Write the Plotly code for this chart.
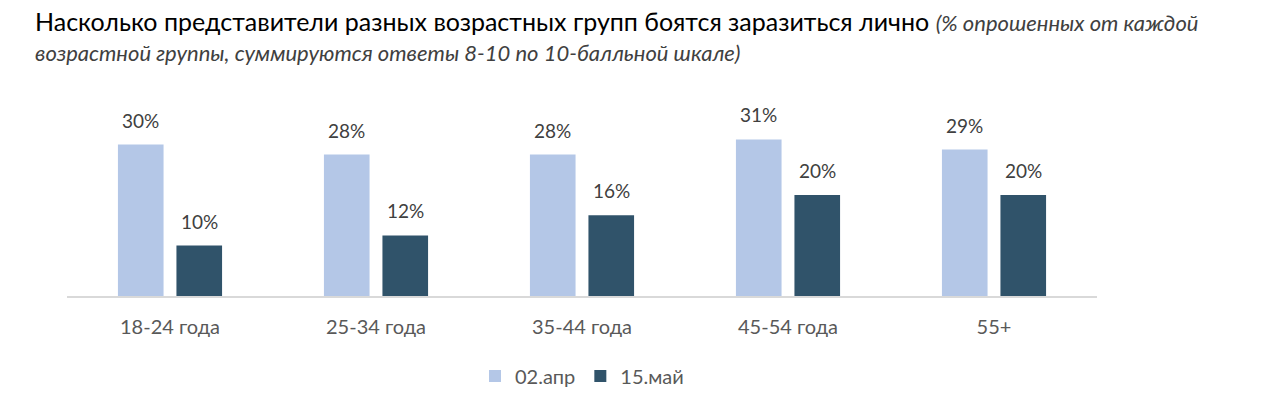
import plotly.graph_objects as go

categories = ["18-24 года", "25-34 года", "35-44 года", "45-54 года", "55+"]
series_names = ["02.апр", "15.май"]
apr_values = [30, 28, 28, 31, 29]
may_values = [10, 12, 16, 20, 20]

colors = ["#b4c7e7", "#30536a"]
FONT = "Lato"
W, H = 1280, 398

fig = go.Figure()
for name, vals, col in zip(series_names, [apr_values, may_values], colors):
    fig.add_trace(go.Bar(x=categories, y=vals, name=name, marker_color=col,
                         marker_line_width=0, hoverinfo="skip"))

# value labels above bars
L, R, T, B = 67, 183, 94, 102
plot_w = W - L - R
cat_w = plot_w / len(categories)
bargap = 0.432
slot = cat_w * (1 - bargap) / 2
annotations = []
for i, vals in enumerate([apr_values, may_values]):
    shift = (i - 0.5) * slot
    for c, v in zip(categories, vals):
        annotations.append(dict(x=c, y=v, xref="x", yref="y", text=f"{v}%",
                                showarrow=False, xshift=shift, yshift=11,
                                yanchor="bottom",
                                font=dict(family=FONT, size=19, color="#404040")))

annotations.append(dict(
    xref="paper", yref="paper", x=-(L - 33) / plot_w, xanchor="left",
    y=1 + (T - 21) / (H - T - B), yanchor="middle",
    text="Насколько представители разных возрастных групп боятся заразиться лично "
         "<i><span style='font-size:22px;color:#404040'>(% опрошенных от каждой</span></i>",
    showarrow=False, align="left", font=dict(family=FONT, size=25, color="#000000")))
annotations.append(dict(
    xref="paper", yref="paper", x=-(L - 33) / plot_w, xanchor="left",
    y=1 + (T - 52) / (H - T - B), yanchor="middle",
    text="<i>возрастной группы, суммируются ответы 8-10 по 10-балльной шкале)</i>",
    showarrow=False, align="left", font=dict(family=FONT, size=22, color="#404040")))

fig.update_layout(
    width=W, height=H,
    margin=dict(l=L, r=R, t=T, b=B, autoexpand=False),
    paper_bgcolor="white", plot_bgcolor="white",
    barmode="group", bargap=bargap, bargroupgap=0.22,
    showlegend=True,
    legend=dict(orientation="h", xref="paper", x=0.5, xanchor="center",
                yref="container", y=1 - 376 / H, yanchor="middle",
                font=dict(family=FONT, size=20, color="#595959"), itemclick=False),
    annotations=annotations,
    xaxis=dict(showline=True, linecolor="#d9d9d9", linewidth=1.5, showgrid=False,
               ticks="", tickfont=dict(family=FONT, size=20, color="#595959"),
               ticklabelstandoff=12, fixedrange=True, automargin=False),
    yaxis=dict(range=[0, 40], visible=False, showgrid=False, fixedrange=True,
               automargin=False),
    font=dict(family=FONT),
)

fig.write_html("out.html", config={"displayModeBar": False},
               post_script="document.body.style.margin='0';document.body.style.overflow='hidden';")
